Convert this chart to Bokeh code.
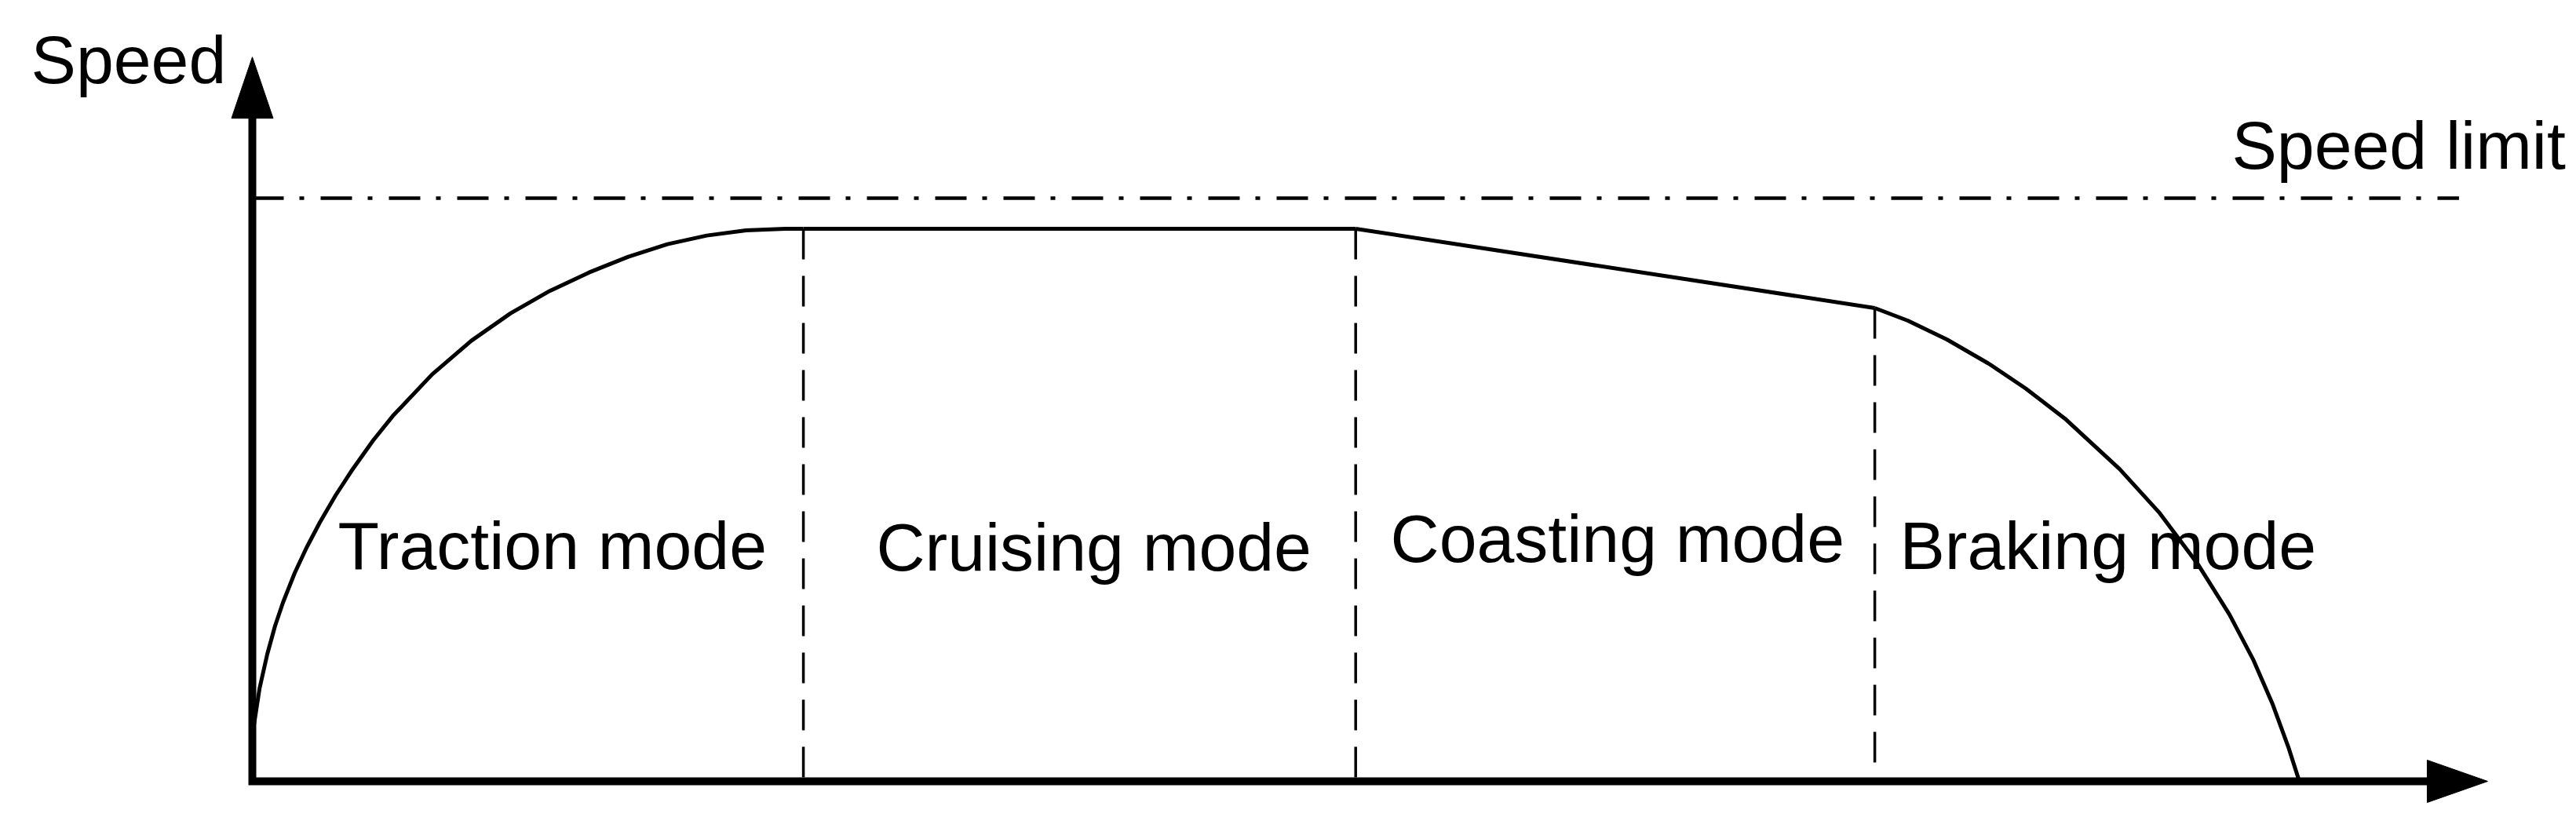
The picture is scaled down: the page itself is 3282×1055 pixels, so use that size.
from bokeh.plotting import figure
from bokeh.models import Range1d, ColumnDataSource
from bokeh.core.properties import value
from bokeh.embed import file_html
from bokeh.resources import INLINE

# ---- data (distance in % of trip, speed in % of speed limit) ----
speed_limit = 100.0
traction_x = [0.04, 0.35, 0.73, 1.11, 1.50, 2.07, 2.65, 3.30, 4.06, 4.83, 5.90, 6.86,
              8.78, 10.70, 12.62, 14.53, 16.45, 18.37, 20.28, 22.20, 24.12, 26.04, 26.92]
traction_y = [8.75, 15.88, 21.80, 26.65, 30.69, 35.73, 40.07, 44.41, 48.99, 53.16, 58.44, 62.64,
              69.77, 75.55, 80.26, 84.10, 87.26, 89.96, 92.11, 93.59, 94.47, 94.74, 94.75]
cruising_x = [26.92, 53.9]
cruising_y = [94.75, 94.75]
coasting_x = [53.9, 79.26]
coasting_y = [94.75, 81.16]
braking_x = [79.26, 80.87, 82.78, 84.82, 86.62, 88.54, 91.22, 93.14, 95.05, 96.59,
             97.74, 98.70, 99.46, 100.0]
braking_y = [81.16, 79.00, 75.77, 71.64, 67.40, 62.22, 53.55, 46.15, 37.20, 28.59,
             20.92, 13.18, 5.91, 0.0]
mode_bounds_x = [26.92, 53.9, 79.26]
mode_bounds_y = [94.75, 94.75, 81.16]
mode_labels = ["Traction mode", "Cruising mode", "Coasting mode", "Braking mode"]
axis_x_end = 109.2
axis_y_end = 124.2
limit_x_end = 107.8

# ---- layout ----
W, H = 3282, 1055
XR = (-12.308, 113.535)
YR = (-8.075, 133.917)
sx = W / (XR[1] - XR[0])
sy = H / (YR[1] - YR[0])

p = figure(width=W, height=H, x_range=Range1d(*XR), y_range=Range1d(*YR),
           output_backend="svg", toolbar_location=None,
           min_border=0, min_border_left=0, min_border_right=0,
           min_border_top=0, min_border_bottom=0)
p.xaxis.visible = False
p.yaxis.visible = False
p.grid.visible = False
p.outline_line_color = None
p.background_fill_color = "white"
p.border_fill_color = "white"

black = "black"

# speed limit line
p.line([0, limit_x_end], [speed_limit, speed_limit], line_color=black,
       line_width=4.5, line_dash="40 20 6 21")

# vertical mode boundaries (drawn top -> bottom)
for bx, by in zip(mode_bounds_x, mode_bounds_y):
    p.line([bx, bx], [by, 0], line_color=black, line_width=3.5, line_dash="39 21")

# speed curve
for xs, ys in ((traction_x, traction_y), (cruising_x, cruising_y),
               (coasting_x, coasting_y), (braking_x, braking_y)):
    p.line(xs, ys, line_color=black, line_width=5, line_join="round")

# axes with arrow heads
head_len_y, head_half_w_y = 78 / sy, 26.5 / sx
head_len_x, head_half_w_x = 77 / sx, 27 / sy
p.line([0, 0, axis_x_end - head_len_x + 1 / sx],
       [axis_y_end - head_len_y + 1 / sy, 0, 0],
       line_color=black, line_width=10, line_join="miter")
p.patch([0, -head_half_w_y, head_half_w_y],
        [axis_y_end, axis_y_end - head_len_y, axis_y_end - head_len_y],
        fill_color=black, line_color=black, line_width=1)
p.patch([axis_x_end, axis_x_end - head_len_x, axis_x_end - head_len_x],
        [0, head_half_w_x, -head_half_w_x],
        fill_color=black, line_color=black, line_width=1)

# texts
font = value("Liberation Sans")
labels = ColumnDataSource(dict(
    x=[4.18, 30.48, 55.6, 80.48],
    y=[40.38, 40.11, 41.72, 40.38],
    text=mode_labels,
))
p.text(x="x", y="y", text="text", source=labels, text_font=font,
       text_font_size="86px", text_color=black,
       text_align="left", text_baseline="alphabetic")
p.text(x=[-10.81], y=[123.69], text=["Speed"], text_font=font,
       text_font_size="86px", text_color=black,
       text_align="left", text_baseline="alphabetic")
p.text(x=[96.70], y=[109.15], text=["Speed limit"], text_font=font,
       text_font_size="86px", text_color=black,
       text_align="left", text_baseline="alphabetic")

open("out.html", "w").write(file_html(p, INLINE))
